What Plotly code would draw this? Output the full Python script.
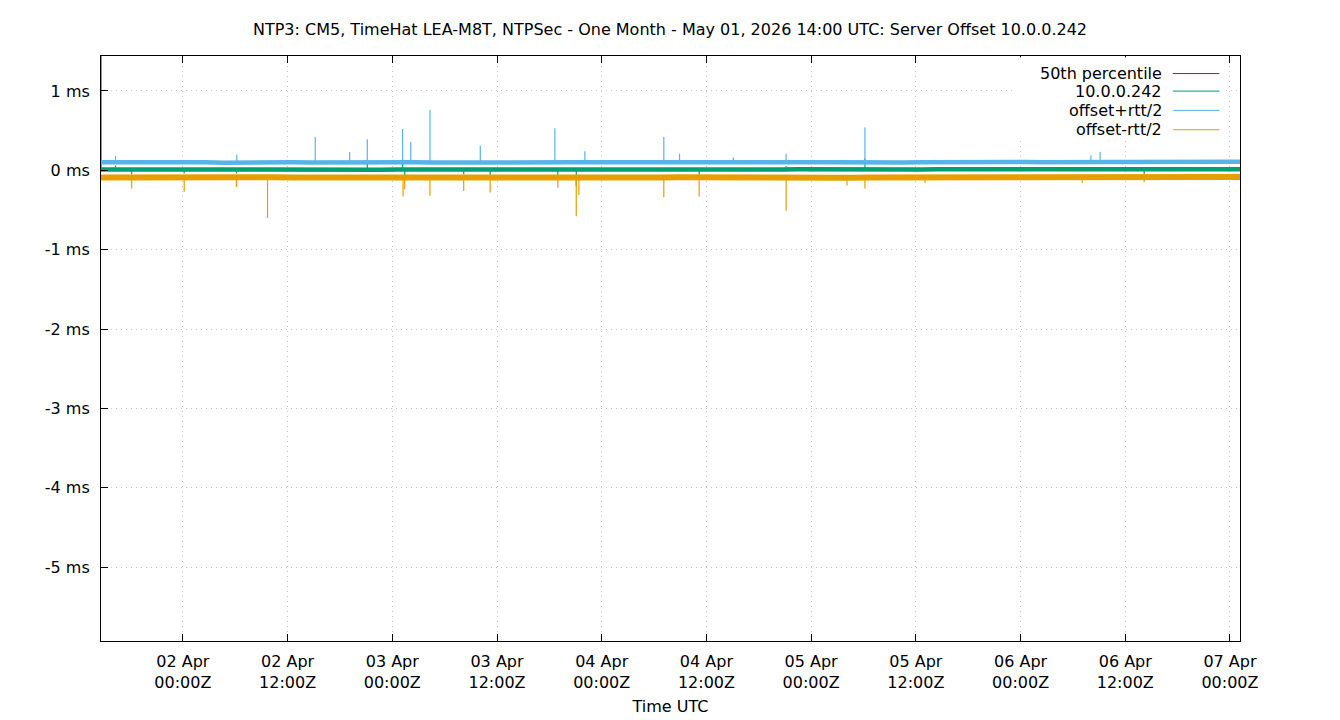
#librerias
import numpy as np
import pandas as pd
import plotly.graph_objects as go

titulo = "NTP3: CM5, TimeHat LEA-M8T, NTPSec - One Month - May 01, 2026 14:00 UTC: Server Offset 10.0.0.242"

#rango de tiempo visible
inicio = "2026-04-01 14:37"
fin = "2026-04-07 01:09"

#valores base cada 2 horas (ms)
horas_base = pd.date_range(inicio, periods=67, freq="2h")

offset_base = [0.010, 0.012, 0.008, 0.010, 0.013, 0.010, 0.009, 0.011, 0.010, 0.008,
               0.011, 0.010, 0.012, 0.009, 0.010, 0.010, 0.008, 0.011, 0.010, 0.012,
               0.010, 0.009, 0.010, 0.011, 0.010, 0.008, 0.010, 0.012, 0.010, 0.009,
               0.010, 0.011, 0.010, 0.010, 0.008, 0.010, 0.011, 0.010, 0.009, 0.010,
               0.012, 0.010, 0.010, 0.008, 0.010, 0.011, 0.010, 0.010, 0.012, 0.010,
               0.011, 0.010, 0.013, 0.011, 0.012, 0.013, 0.011, 0.012, 0.013, 0.012,
               0.013, 0.014, 0.012, 0.013, 0.014, 0.013, 0.014]

mas_rtt_base = [0.100, 0.102, 0.097, 0.100, 0.104, 0.099, 0.100, 0.096, 0.100, 0.101,
                0.104, 0.100, 0.099, 0.101, 0.096, 0.100, 0.100, 0.103, 0.100, 0.098,
                0.100, 0.101, 0.097, 0.100, 0.100, 0.099, 0.103, 0.100, 0.100, 0.098,
                0.100, 0.097, 0.100, 0.101, 0.099, 0.100, 0.100, 0.103, 0.100, 0.099,
                0.100, 0.101, 0.100, 0.097, 0.100, 0.100, 0.099, 0.100, 0.103, 0.101,
                0.102, 0.101, 0.103, 0.105, 0.102, 0.106, 0.104, 0.107, 0.106, 0.104,
                0.107, 0.108, 0.107, 0.105, 0.108, 0.109, 0.108]

menos_rtt_base = [-0.090, -0.088, -0.092, -0.090, -0.087, -0.091, -0.090, -0.093, -0.090, -0.089,
                  -0.087, -0.090, -0.091, -0.089, -0.093, -0.090, -0.090, -0.088, -0.090, -0.092,
                  -0.090, -0.089, -0.093, -0.090, -0.090, -0.091, -0.088, -0.090, -0.090, -0.092,
                  -0.090, -0.093, -0.090, -0.089, -0.091, -0.090, -0.090, -0.088, -0.090, -0.091,
                  -0.090, -0.089, -0.090, -0.093, -0.090, -0.090, -0.091, -0.090, -0.088, -0.089,
                  -0.088, -0.089, -0.087, -0.086, -0.088, -0.085, -0.087, -0.086, -0.085, -0.087,
                  -0.085, -0.084, -0.085, -0.087, -0.084, -0.083, -0.084]

#picos (hora, valor en ms)
offset_picos_t = ["2026-04-01 14:38", "2026-04-01 16:17", "2026-04-01 18:08", "2026-04-02 00:09",
                  "2026-04-02 06:09", "2026-04-02 21:08", "2026-04-03 01:11", "2026-04-03 01:25",
                  "2026-04-03 08:11", "2026-04-03 11:13", "2026-04-03 18:58", "2026-04-03 21:05",
                  "2026-04-04 11:10", "2026-04-04 21:08", "2026-04-05 06:10", "2026-04-06 14:10"]
offset_picos_v = [1.8, 0.06, -0.05, -0.04,
                  -0.04, 0.09, 0.09, -0.07,
                  -0.05, -0.06, -0.06, -0.20,
                  -0.07, 0.05, 0.15, -0.05]

mas_rtt_picos_t = ["2026-04-01 16:17", "2026-04-02 06:11", "2026-04-02 15:10", "2026-04-02 19:07",
                   "2026-04-02 21:08", "2026-04-03 01:11", "2026-04-03 02:07", "2026-04-03 04:19",
                   "2026-04-03 10:05", "2026-04-03 18:38", "2026-04-03 22:04", "2026-04-04 07:07",
                   "2026-04-04 08:55", "2026-04-04 15:05", "2026-04-04 21:08", "2026-04-05 06:10",
                   "2026-04-06 08:04", "2026-04-06 09:07"]
mas_rtt_picos_v = [0.18, 0.20, 0.42, 0.23,
                   0.39, 0.52, 0.36, 0.76,
                   0.31, 0.53, 0.24, 0.42,
                   0.21, 0.16, 0.21, 0.54,
                   0.19, 0.23]

menos_rtt_picos_t = ["2026-04-01 18:08", "2026-04-02 00:09", "2026-04-02 06:09", "2026-04-02 09:42",
                     "2026-04-03 01:14", "2026-04-03 01:25", "2026-04-03 04:19", "2026-04-03 08:11",
                     "2026-04-03 11:13", "2026-04-03 18:58", "2026-04-03 21:05", "2026-04-03 21:23",
                     "2026-04-04 07:07", "2026-04-04 11:10", "2026-04-04 21:08", "2026-04-05 04:07",
                     "2026-04-05 06:10", "2026-04-05 13:03", "2026-04-06 07:04", "2026-04-06 14:10"]
menos_rtt_picos_v = [-0.23, -0.27, -0.21, -0.60,
                     -0.33, -0.24, -0.32, -0.26,
                     -0.28, -0.22, -0.58, -0.31,
                     -0.34, -0.33, -0.51, -0.19,
                     -0.23, -0.16, -0.16, -0.15]

#ticks del eje y
y_ticks = [1, 0, -1, -2, -3, -4, -5]
y_ticktext = ["1 ms", "0 ms", "-1 ms", "-2 ms", "-3 ms", "-4 ms", "-5 ms"]

#colores de gnuplot
violeta = "#9400d3"
verde = "#009e73"
celeste = "#56b4e9"
naranja = "#e69f00"


def rayitas(v_base, t_picos, v_picos):
    #cada pico es una rayita vertical que sale del nivel de la base
    nivel = float(np.median(v_base))
    xs, ys = [], []
    for t, v in zip(t_picos, v_picos):
        xs += [t, t, None]
        ys += [nivel, v, None]
    return xs, ys


series = [
    ("10.0.0.242", verde, 4.5, offset_base, offset_picos_t, offset_picos_v),
    ("offset+rtt/2", celeste, 4.5, mas_rtt_base, mas_rtt_picos_t, mas_rtt_picos_v),
    ("offset-rtt/2", naranja, 6, menos_rtt_base, menos_rtt_picos_t, menos_rtt_picos_v),
]
percentil50 = float(np.percentile(offset_base, 50))

Grafico = go.Figure()
Grafico.add_trace(go.Scatter(x=[inicio, fin], y=[percentil50, percentil50], mode="lines",
                             line=dict(color=violeta, width=1), name="50th percentile"))
for nombre, color, ancho, base, picos_t, picos_v in series:
    Grafico.add_trace(go.Scatter(x=horas_base, y=base, mode="lines",
                                 line=dict(color=color, width=ancho), name=nombre))
    xs, ys = rayitas(base, picos_t, picos_v)
    Grafico.add_trace(go.Scatter(x=xs, y=ys, mode="lines", connectgaps=False,
                                 line=dict(color=color, width=1.2), name=nombre))

fuente = dict(family="DejaVu Sans", size=16, color="black")
grilla = dict(showgrid=True, gridcolor="#c4c4c4", griddash="1px,4px", gridwidth=1)

#el navegador deja 8px de borde, por eso los margenes estan corridos
Grafico.update_layout(
    width=1340, height=720,
    margin=dict(l=93, r=108, t=48, b=87),
    paper_bgcolor="white", plot_bgcolor="white",
    font=fuente,
    showlegend=False,
    title=dict(text=titulo, x=(670 - 8) / 1340, xanchor="center", y=1 - 21 / 720, yanchor="middle",
               font=fuente),
)
Grafico.update_xaxes(
    range=[inicio, fin], type="date",
    dtick=12 * 3600 * 1000, tick0="2026-04-02 00:00",
    tickformat="%d %b<br>%H:%MZ",
    ticks="inside", ticklen=7, tickcolor="black",
    showline=True, linecolor="black", linewidth=1, mirror="allticks",
    zeroline=False, ticklabelstandoff=6,
    title=dict(text="Time UTC", standoff=9, font=fuente),
    **grilla,
)
Grafico.update_yaxes(
    range=[-5.93, 1.44],
    tickvals=y_ticks, ticktext=y_ticktext,
    ticks="inside", ticklen=7, tickcolor="black",
    showline=True, linecolor="black", linewidth=1, mirror=True,
    zeroline=False, ticklabelstandoff=7,
    **grilla,
)

#leyenda estilo gnuplot (texto a la izquierda, muestra a la derecha) sobre una caja blanca
Grafico.add_shape(type="rect", xref="paper", yref="paper", x0=0.800, x1=0.987, y0=0.86, y1=0.998,
                  fillcolor="white", line=dict(width=0), layer="above")
nombres = ["50th percentile", "10.0.0.242", "offset+rtt/2", "offset-rtt/2"]
colores = [violeta, verde, celeste, naranja]
filas_y = [0.970, 0.940, 0.907, 0.874]
for nombre, color, fy in zip(nombres, colores, filas_y):
    Grafico.add_annotation(text=nombre, xref="paper", yref="paper", x=0.9335, y=fy,
                           xanchor="right", yanchor="middle", showarrow=False, font=fuente)
    Grafico.add_shape(type="line", xref="paper", yref="paper", x0=0.941, x1=0.982, y0=fy, y1=fy,
                      line=dict(color=color, width=1), layer="above")

Grafico.write_html("out.html")
